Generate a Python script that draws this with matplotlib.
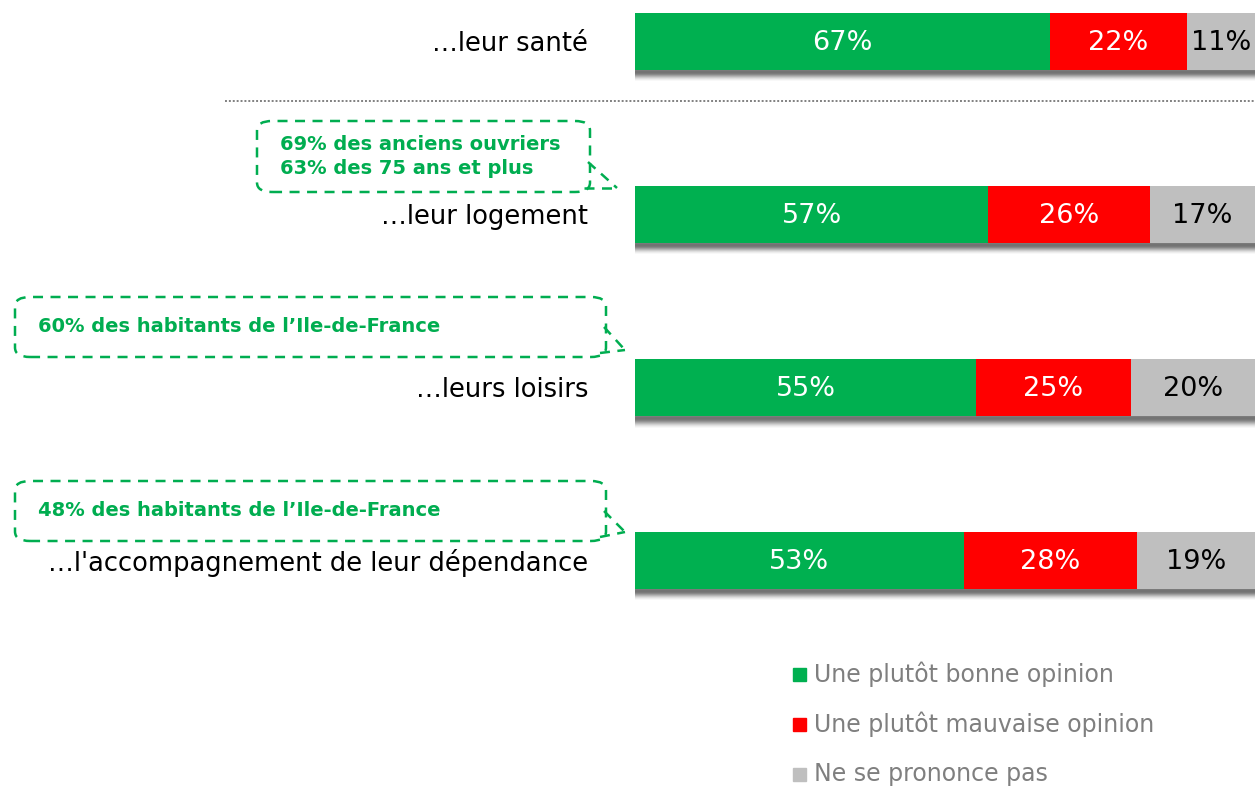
import matplotlib
matplotlib.use('Agg')
import matplotlib.pyplot as plt
import numpy as np
from matplotlib.patches import FancyBboxPatch
from matplotlib.lines import Line2D

# data
categories = ['…leur santé', '…leur logement', '…leurs loisirs',
              "…l'accompagnement de leur dépendance"]
bonne = [67, 57, 55, 53]
mauvaise = [22, 26, 25, 28]
nsp = [11, 17, 20, 19]
series_names = ['Une plutôt bonne opinion', 'Une plutôt mauvaise opinion',
                'Ne se prononce pas']
callouts = [(1, '69% des anciens ouvriers\n63% des 75 ans et plus'),
            (2, "60% des habitants de l’Ile-de-France"),
            (3, "48% des habitants de l’Ile-de-France")]

GREEN = '#00B050'
RED = '#FF0000'
GREY = '#BFBFBF'
TXT_GREEN = '#00AD50'

W, H = 1255, 786
fig = plt.figure(figsize=(W / 100, H / 100), dpi=100)


def fx(px):
    return px / W


def fy(py):
    return 1 - py / H


# bar axes: row i centred at 41 + 173*i px from top
row0, step = 41, 173
ax = fig.add_axes([fx(635), 0, fx(620), 1])

bh = 57 / step
ypos = list(range(len(categories)))

# blurred shadow under each bar (vertical gradient)
shade = np.array([0.8, 0.9, 0.95, 0.95, 0.9, 0.8, 0.65, 0.5, 0.35, 0.22, 0.12, 0.05])
grad = np.zeros((len(shade), 1, 4))
grad[..., :3] = 0.42
grad[:, 0, 3] = shade
sh = len(shade) / step
for y in ypos:
    ax.imshow(grad, extent=[0, 100, y + bh / 2 + sh, y + bh / 2], aspect='auto',
              interpolation='bilinear', zorder=1)

left2 = [a for a in bonne]
left3 = [a + b for a, b in zip(bonne, mauvaise)]
ax.barh(ypos, bonne, height=bh, color=GREEN, zorder=2, label=series_names[0])
ax.barh(ypos, mauvaise, left=left2, height=bh, color=RED, zorder=2, label=series_names[1])
ax.barh(ypos, nsp, left=left3, height=bh, color=GREY, zorder=2, label=series_names[2])

ax.set_xlim(0, 100)
ax.set_ylim((H - row0) / step, -row0 / step)
ax.axis('off')

vfont = dict(fontsize=19.5, va='center', ha='center', zorder=3)
for i in ypos:
    ax.text(bonne[i] / 2, i + 0.01, f'{bonne[i]}%', color='white', **vfont)
    ax.text(left2[i] + mauvaise[i] / 2, i + 0.01, f'{mauvaise[i]}%', color='white', **vfont)
    ax.text(left3[i] + nsp[i] / 2, i + 0.01, f'{nsp[i]}%', color='black', **vfont)
    fig.text(fx(588), fy(row0 + step * i + 3), categories[i], ha='right', va='center',
             fontsize=18.5, color='black')

# separator
fig.add_artist(Line2D([fx(225), fx(1255)], [fy(101), fy(101)], color='#808080',
                      linestyle=(0, (1, 1)), linewidth=1.4))

# callouts
boxes = {1: (257, 121, 590, 192, 617, 188),
         2: (15, 297, 606, 357, 625, 350),
         3: (15, 481, 606, 541, 625, 532)}
for idx, txt in callouts:
    x0, y0, x1, y1, tx, ty = boxes[idx]
    box = FancyBboxPatch((fx(x0), fy(y1)), fx(x1 - x0), fy(y0) - fy(y1),
                         boxstyle='round,pad=0,rounding_size=0.012',
                         transform=fig.transFigure, fill=False, edgecolor=TXT_GREEN,
                         linewidth=1.8, linestyle=(0, (4, 3)))
    fig.add_artist(box)
    fig.add_artist(Line2D([fx(x1 - 2), fx(tx)], [fy(y1 - 30), fy(ty)], color=TXT_GREEN,
                          linewidth=1.8, linestyle=(0, (4, 3))))
    fig.add_artist(Line2D([fx(x1 - 6), fx(tx)], [fy(y1 - 4), fy(ty)], color=TXT_GREEN,
                          linewidth=1.8, linestyle=(0, (4, 3))))
    fig.text(fx(x0 + 23), fy((y0 + y1) / 2), txt, ha='left', va='center',
             fontsize=14, fontweight='bold', color=TXT_GREEN, linespacing=1.3)

# legend
colors = [GREEN, RED, GREY]
for k, name in enumerate(series_names):
    yy = 674 + 50 * k
    fig.patches.append(plt.Rectangle((fx(793), fy(yy + 7)), fx(13), fy(yy - 6) - fy(yy + 7),
                                     transform=fig.transFigure, color=colors[k]))
    fig.text(fx(814), fy(yy), name, ha='left', va='center', fontsize=17, color='#7F7F7F')

fig.savefig('out.png', dpi=100)
